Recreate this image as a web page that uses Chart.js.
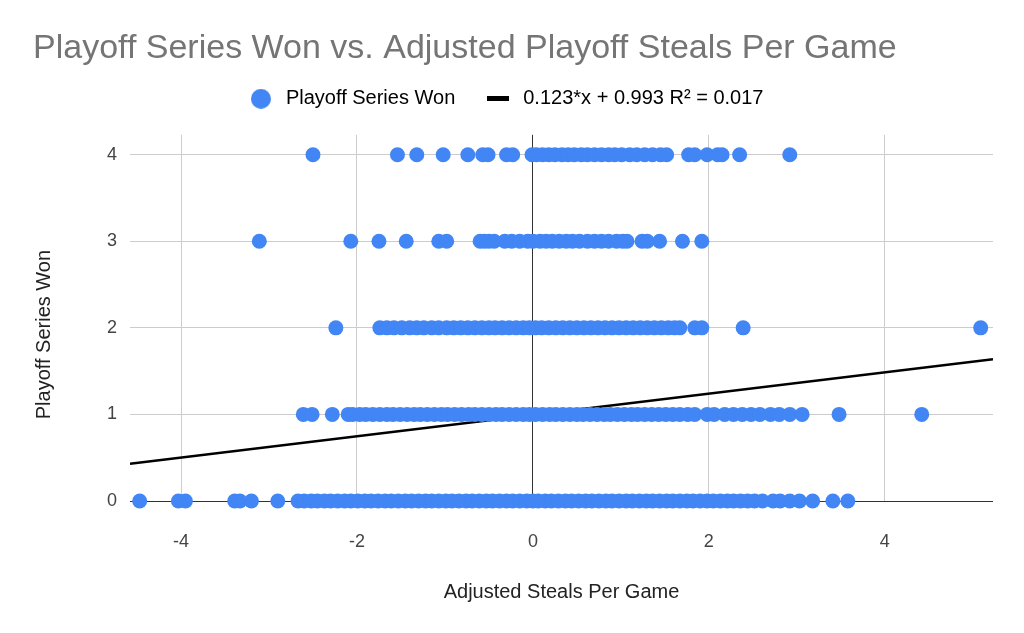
<!DOCTYPE html>
<html>
<head>
<meta charset="utf-8">
<script src="https://cdn.jsdelivr.net/npm/chart.js@4.4.1/dist/chart.umd.min.js"></script>
<style>
  html, body { margin: 0; padding: 0; background: #fff; }
  #wrap { width: 1024px; height: 633px; }
</style>
</head>
<body>
<div id="wrap"><canvas id="chart1"></canvas></div>
<script>
// data: adjusted steals per game, one list per playoff series won
var wins0 = [-4.47, -4.03, -3.95, -3.39, -3.33, -3.20, -2.90,
  -2.67, -2.60, -2.52, -2.45, -2.37, -2.30, -2.22, -2.14, -2.07, -1.99, -1.91, -1.84,
  -1.76, -1.68, -1.61, -1.53, -1.45, -1.38, -1.30, -1.22, -1.15, -1.07, -0.99, -0.92,
  -0.84, -0.76, -0.69, -0.61, -0.53, -0.46, -0.38, -0.30, -0.23, -0.15, -0.07, 0.00,
  0.06, 0.14, 0.21, 0.29, 0.37, 0.44, 0.52, 0.60, 0.67, 0.75, 0.83, 0.90, 0.98, 1.06,
  1.13, 1.21, 1.29, 1.36, 1.44, 1.52, 1.59, 1.67, 1.75, 1.82, 1.90, 1.98, 2.05, 2.13,
  2.21, 2.28, 2.36, 2.44, 2.52, 2.61, 2.73, 2.81, 2.92, 3.03, 3.18, 3.41, 3.58];
var wins1 = [-2.61, -2.51, -2.28, -2.10,
  -2.05, -1.97, -1.90, -1.82, -1.74, -1.66, -1.59, -1.51, -1.43, -1.35, -1.28, -1.20,
  -1.12, -1.04, -0.97, -0.89, -0.81, -0.73, -0.66, -0.58, -0.50, -0.42, -0.35, -0.27,
  -0.19, -0.11, -0.04, 0.03, 0.11, 0.19, 0.26, 0.34, 0.42, 0.50, 0.57, 0.65, 0.73,
  0.81, 0.88, 0.96, 1.04, 1.12, 1.19, 1.27, 1.35, 1.43, 1.51, 1.59, 1.67,
  1.76, 1.84, 1.98, 2.06, 2.18, 2.28, 2.38, 2.48, 2.58, 2.70, 2.80, 2.92, 3.06, 3.48, 4.42];
var wins2 = [-2.24, -1.74, -1.66, -1.58, -1.49, -1.40, -1.32, -1.24, -1.15, -1.07, -0.98,
  -0.90, -0.82, -0.74, -0.66, -0.58, -0.50, -0.43, -0.35, -0.27, -0.19, -0.11, -0.04,
  0.03, 0.10, 0.18, 0.26, 0.34, 0.42, 0.50, 0.58, 0.66, 0.74, 0.82, 0.90, 0.98, 1.06,
  1.14, 1.22, 1.30, 1.38, 1.46, 1.54, 1.61, 1.67, 1.84, 1.92, 2.39, 5.09];
var wins3 = [-3.11, -2.07, -1.75, -1.44, -1.07, -0.98, -0.60, -0.55, -0.50, -0.44,
  -0.32, -0.24, -0.15, -0.06, 0.00, 0.08, 0.15, 0.22, 0.30, 0.38, 0.45, 0.53, 0.62,
  0.70, 0.78, 0.86, 0.95, 1.02, 1.07, 1.24, 1.30, 1.44, 1.70, 1.92];
var wins4 = [-2.50, -1.54, -1.32, -1.02, -0.74, -0.57, -0.51, -0.30, -0.23, -0.01, 0.04,
  0.11, 0.18, 0.25, 0.33, 0.40, 0.47, 0.55, 0.62, 0.70, 0.78, 0.86, 0.93, 1.01, 1.10,
  1.18, 1.27, 1.36, 1.45, 1.52, 1.77, 1.84, 1.98, 2.10, 2.15, 2.35, 2.92];

var seriesWon = [0, 1, 2, 3, 4];
var stealsByWins = [wins0, wins1, wins2, wins3, wins4];

// trendline shown in the legend
var slope = 0.123;
var intercept = 0.993;
var trendLabel = '0.123*x + 0.993 R\u00b2 = 0.017';

var xTicks = [-4, -2, 0, 2, 4];
var yTicks = [0, 1, 2, 3, 4];
var xMin = -4.58, xMax = 5.23;
var yMin = 0, yMax = 4.23;

var points = [];
seriesWon.forEach(function(w, i) {
    stealsByWins[i].forEach(function(s) { points.push({x: s, y: w}); });
});

var trend = [
    {x: xMin, y: slope * xMin + intercept},
    {x: xMax, y: slope * xMax + intercept}
];

// legend markers: blue dot and short black bar
var dotMarker = document.createElement('canvas');
dotMarker.width = 20;
dotMarker.height = 20;
var dctx = dotMarker.getContext('2d');
dctx.fillStyle = '#4285f4';
dctx.beginPath();
dctx.arc(10, 10, 10, 0, Math.PI * 2);
dctx.fill();

var lineMarker = document.createElement('canvas');
lineMarker.width = 22;
lineMarker.height = 5;
var mctx = lineMarker.getContext('2d');
mctx.fillStyle = '#000';
mctx.fillRect(0, 0, 22, 5);

// extra room between the legend and the plot
var legendGap = {
    id: 'legendGap',
    beforeLayout: function(chart) {
        var lg = chart.legend;
        if (lg && !lg._gapPatched) {
            var fit = lg.fit;
            lg.fit = function() {
                fit.call(this);
                this.height += 16;
            };
            lg._gapPatched = true;
        }
    }
};

var FONT = "'Liberation Sans', Arial, sans-serif";

var ctx = document.getElementById('chart1').getContext('2d');

var myChart = new Chart(ctx, {
    type: 'scatter',
    data: {
        datasets: [{
            label: 'Playoff Series Won',
            data: points,
            backgroundColor: '#4285f4',
            borderWidth: 0,
            pointRadius: 7.5,
            pointHoverRadius: 7.5,
            clip: false
        }, {
            type: 'line',
            label: trendLabel,
            data: trend,
            borderColor: '#000',
            borderWidth: 2.5,
            pointRadius: 0,
            fill: false
        }]
    },
    plugins: [legendGap],
    options: {
        responsive: true,
        maintainAspectRatio: false,
        animation: false,
        layout: {
            padding: {left: 33, right: 31, top: 37, bottom: 0}
        },
        plugins: {
            title: {
                display: true,
                text: 'Playoff Series Won vs. Adjusted Playoff Steals Per Game',
                align: 'start',
                color: '#757575',
                font: {family: FONT, size: 34, weight: 'normal', lineHeight: 0.7},
                padding: 0
            },
            legend: {
                display: true,
                labels: {
                    font: {family: FONT, size: 20},
                    color: '#222',
                    usePointStyle: true,
                    pointStyleWidth: 30,
                    boxWidth: 14,
                    boxHeight: 14,
                    padding: 28,
                    generateLabels: function(chart) {
                        return [{
                            text: 'Playoff Series Won',
                            fillStyle: '#4285f4',
                            strokeStyle: '#4285f4',
                            lineWidth: 0,
                            pointStyle: dotMarker,
                            datasetIndex: 0
                        }, {
                            text: trendLabel + '   ',
                            fillStyle: '#000',
                            strokeStyle: '#000',
                            lineWidth: 0,
                            pointStyle: lineMarker,
                            datasetIndex: 1
                        }];
                    }
                }
            },
            tooltip: {enabled: false}
        },
        scales: {
            x: {
                type: 'linear',
                min: xMin,
                max: xMax,
                afterBuildTicks: function(scale) {
                    scale.ticks = xTicks.map(function(v) { return {value: v}; });
                },
                afterFit: function(scale) { scale.height = 132; },
                grid: {
                    drawTicks: false,
                    color: function(c) { return c.tick && c.tick.value === 0 ? '#333' : '#ccc'; },
                    lineWidth: 1
                },
                border: {display: false},
                ticks: {
                    padding: 30,
                    color: '#444',
                    font: {family: FONT, size: 18}
                },
                title: {
                    display: true,
                    text: 'Adjusted Steals Per Game',
                    color: '#222',
                    font: {family: FONT, size: 20},
                    padding: {top: 0, bottom: 28.5}
                }
            },
            y: {
                type: 'linear',
                min: yMin,
                max: yMax,
                afterBuildTicks: function(scale) {
                    scale.ticks = yTicks.map(function(v) { return {value: v}; });
                },
                afterFit: function(scale) { scale.width = 97; },
                grid: {
                    drawTicks: false,
                    color: function(c) { return c.tick && c.tick.value === 0 ? '#333' : '#ccc'; },
                    lineWidth: 1
                },
                border: {display: false},
                ticks: {
                    padding: 13,
                    color: '#444',
                    font: {family: FONT, size: 18}
                },
                title: {
                    display: true,
                    // trailing spaces nudge the rotated title down a little
                    text: 'Playoff Series Won      ',
                    color: '#222',
                    font: {family: FONT, size: 20, lineHeight: 0.9},
                    padding: {top: 2, bottom: 0}
                }
            }
        }
    }
});
</script>
</body>
</html>
